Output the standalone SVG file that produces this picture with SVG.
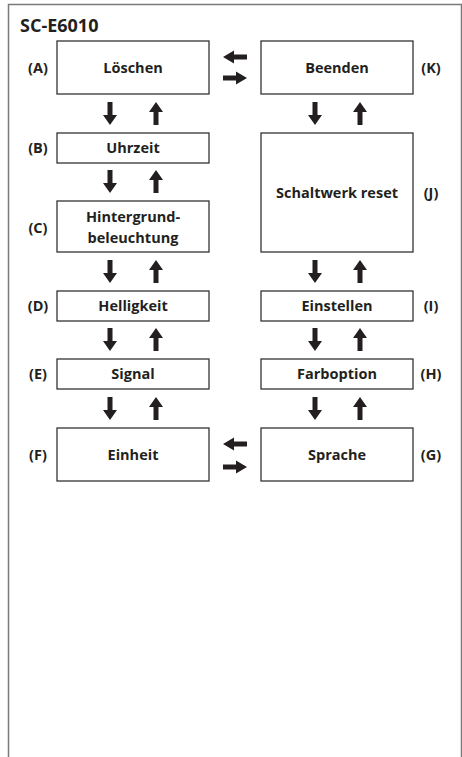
<svg xmlns="http://www.w3.org/2000/svg" xmlns:xlink="http://www.w3.org/1999/xlink" width="462" height="757" viewBox="0 0 462 757">
<style>
  .box { fill: #fff; stroke: #333; stroke-width: 1.3; }
  .t { font-family: "Open Sans", "Noto Sans", sans-serif; font-weight: 700; font-size: 14.5px; fill: #231f20; text-anchor: middle; }
  .lbl { font-family: "Open Sans", "Noto Sans", sans-serif; font-weight: 700; font-size: 14.5px; fill: #231f20; text-anchor: middle; }
  .title { font-family: "Open Sans", "Noto Sans", sans-serif; font-weight: 700; font-size: 18px; fill: #231f20; }
  .ar { fill: #231f20; }
</style>
<defs>
  <path id="dn" class="ar" d="M-2.5,0 H2.5 V13 H7 L0,23 L-7,13 H-2.5 Z"/>
  <path id="up" class="ar" d="M-2.5,23 H2.5 V10 H7 L0,0 L-7,10 H-2.5 Z"/>
  <path id="lf" class="ar" d="M24,-2.5 V2.5 H11 V6.5 L0,0 L11,-6.5 V-2.5 Z"/>
  <path id="rt" class="ar" d="M0,-2.5 V2.5 H13 V6.5 L24,0 L13,-6.5 V-2.5 Z"/>
</defs>
<rect width="462" height="757" fill="#fff"/>
<path d="M8.5,757 V4.5 H461.5 V757" fill="none" stroke="#7a7a7a" stroke-width="1.5"/>
<text class="title" x="20" y="32">SC-E6010</text>

<g id="A"><rect class="box" x="57" y="41" width="152" height="53"/><text class="t" x="133" y="73">Löschen</text><text class="lbl" x="38" y="73">(A)</text></g>
<g id="B"><rect class="box" x="57" y="133" width="152" height="30"/><text class="t" x="133" y="153">Uhrzeit</text><text class="lbl" x="38" y="153">(B)</text></g>
<g id="C"><rect class="box" x="57" y="201" width="152" height="51"/><text class="t" x="133" y="222">Hintergrund-</text><text class="t" x="133" y="243">beleuchtung</text><text class="lbl" x="38" y="233">(C)</text></g>
<g id="D"><rect class="box" x="57" y="291" width="152" height="30"/><text class="t" x="133" y="311">Helligkeit</text><text class="lbl" x="38" y="311">(D)</text></g>
<g id="E"><rect class="box" x="57" y="359" width="152" height="30"/><text class="t" x="133" y="379">Signal</text><text class="lbl" x="38" y="379">(E)</text></g>
<g id="F"><rect class="box" x="57" y="428" width="152" height="53"/><text class="t" x="133" y="460">Einheit</text><text class="lbl" x="38" y="460">(F)</text></g>

<g id="K"><rect class="box" x="261" y="41" width="152" height="53"/><text class="t" x="337" y="73">Beenden</text><text class="lbl" x="431" y="73">(K)</text></g>
<g id="J"><rect class="box" x="261" y="133" width="152" height="119"/><text class="t" x="337" y="198">Schaltwerk reset</text><text class="lbl" x="431" y="198">(J)</text></g>
<g id="I"><rect class="box" x="261" y="291" width="152" height="30"/><text class="t" x="337" y="311">Einstellen</text><text class="lbl" x="431" y="311">(I)</text></g>
<g id="H"><rect class="box" x="261" y="359" width="152" height="30"/><text class="t" x="337" y="379">Farboption</text><text class="lbl" x="431" y="379">(H)</text></g>
<g id="G"><rect class="box" x="261" y="428" width="152" height="53"/><text class="t" x="337" y="460">Sprache</text><text class="lbl" x="431" y="460">(G)</text></g>

<g id="connectors">
  <use href="#lf" x="223" y="57"/><use href="#rt" x="223" y="78"/>
  <use href="#lf" x="223" y="444"/><use href="#rt" x="223" y="467"/>
  <use href="#dn" x="110" y="102"/><use href="#up" x="156" y="102"/>
  <use href="#dn" x="110" y="170"/><use href="#up" x="156" y="170"/>
  <use href="#dn" x="110" y="260"/><use href="#up" x="156" y="260"/>
  <use href="#dn" x="110" y="328"/><use href="#up" x="156" y="328"/>
  <use href="#dn" x="110" y="397"/><use href="#up" x="156" y="397"/>
  <use href="#dn" x="315" y="102"/><use href="#up" x="360" y="102"/>
  <use href="#dn" x="315" y="260"/><use href="#up" x="360" y="260"/>
  <use href="#dn" x="315" y="328"/><use href="#up" x="360" y="328"/>
  <use href="#dn" x="315" y="397"/><use href="#up" x="360" y="397"/>
</g>
</svg>
